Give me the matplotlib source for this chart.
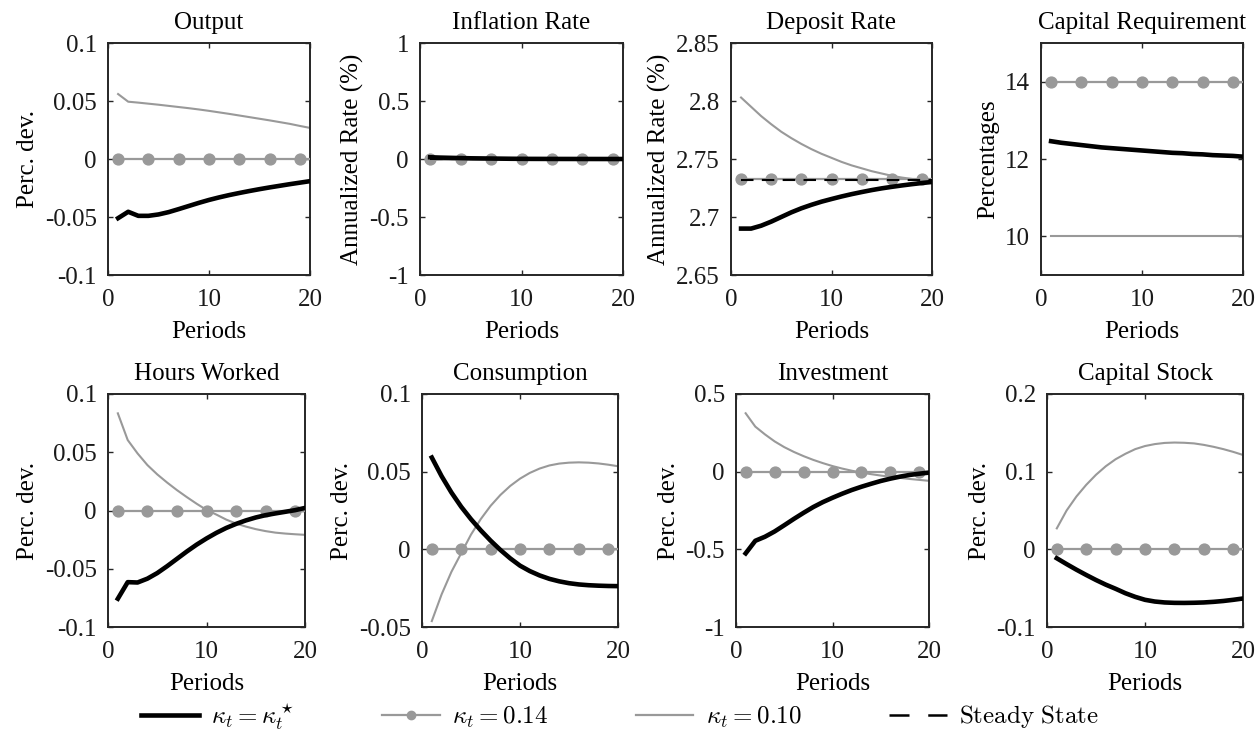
import matplotlib
matplotlib.use("Agg")
import matplotlib.pyplot as plt
from matplotlib.lines import Line2D
import numpy as np

plt.rcParams['font.family'] = ['Liberation Serif', 'DejaVu Serif']
plt.rcParams['mathtext.fontset'] = 'cm'

periods = list(range(1, 21))

# ---------------- data ----------------
output_kstar = [-0.051, -0.0455, -0.049, -0.049, -0.0478, -0.0458, -0.0432, -0.0405, -0.0378, -0.0353,
                -0.0331, -0.0311, -0.0293, -0.0276, -0.0260, -0.0245, -0.0231, -0.0217, -0.0204, -0.0191]
output_k014 = [0.0] * 20
output_k010 = [0.056, 0.0494, 0.0486, 0.0477, 0.0468, 0.0458, 0.0448, 0.0438, 0.0427, 0.0415,
               0.0402, 0.0389, 0.0375, 0.0361, 0.0347, 0.0333, 0.0318, 0.0303, 0.0285, 0.0268]

infl_kstar = [0.015, 0.012, 0.010, 0.008, 0.006, 0.005, 0.004, 0.003, 0.002, 0.0015,
              0.001, 0.0008, 0.0006, 0.0004, 0.0003, 0.0002, 0.0001, 0.0, 0.0, 0.0]
infl_k014 = [0.0] * 20
infl_k010 = [-0.008, -0.006, -0.005, -0.004, -0.003, -0.0025, -0.002, -0.0015, -0.001, -0.0008,
             -0.0006, -0.0004, -0.0003, -0.0002, -0.0001, 0.0, 0.0, 0.0, 0.0, 0.0]
infl_ss = 0.0

dep_kstar = [2.690, 2.690, 2.6925, 2.696, 2.700, 2.704, 2.7075, 2.7105, 2.7132, 2.7155,
             2.7177, 2.7197, 2.7215, 2.7232, 2.7247, 2.7260, 2.7272, 2.7283, 2.7293, 2.7302]
dep_k014 = [2.7326] * 20
dep_k010 = [2.803, 2.795, 2.787, 2.780, 2.7735, 2.768, 2.763, 2.7585, 2.7545, 2.751,
            2.7475, 2.7445, 2.742, 2.7395, 2.7375, 2.7355, 2.734, 2.7328, 2.7318, 2.731]
dep_ss = 2.7315

capreq_kstar = [12.46, 12.42, 12.39, 12.36, 12.33, 12.30, 12.28, 12.26, 12.24, 12.22,
                12.20, 12.18, 12.16, 12.15, 12.13, 12.12, 12.10, 12.09, 12.08, 12.06]
capreq_k014 = [14.0] * 20
capreq_k010 = [10.0] * 20

hours_kstar = [-0.0757, -0.0615, -0.0618, -0.0585, -0.0537, -0.0478, -0.0415, -0.0352, -0.0293, -0.0240,
               -0.0192, -0.0150, -0.0115, -0.0085, -0.0060, -0.0040, -0.0025, -0.0011, 0.0003, 0.0022]
hours_k014 = [0.0] * 20
hours_k010 = [0.0834, 0.0605, 0.049, 0.039, 0.031, 0.024, 0.0175, 0.0115, 0.0058, 0.0005,
              -0.0035, -0.0078, -0.0112, -0.0138, -0.016, -0.0177, -0.019, -0.0198, -0.0204, -0.0209]

cons_kstar = [0.0591, 0.0471, 0.0366, 0.0274, 0.0194, 0.0122, 0.0056, -0.0004, -0.0058, -0.0105,
              -0.0140, -0.0168, -0.0190, -0.0206, -0.0218, -0.0226, -0.0231, -0.0234, -0.0236, -0.0237]
cons_k014 = [0.0] * 20
cons_k010 = [-0.0462, -0.029, -0.0145, -0.0025, 0.0095, 0.0195, 0.028, 0.035, 0.0408, 0.0455,
             0.0492, 0.052, 0.054, 0.0552, 0.0558, 0.056, 0.0558, 0.0553, 0.0545, 0.0535]

inv_kstar = [-0.526, -0.445, -0.419, -0.385, -0.345, -0.304, -0.265, -0.228, -0.196, -0.168,
             -0.142, -0.118, -0.097, -0.078, -0.060, -0.045, -0.032, -0.021, -0.013, -0.006]
inv_k014 = [0.0] * 20
inv_k010 = [0.376, 0.29, 0.24, 0.195, 0.158, 0.127, 0.100, 0.076, 0.055, 0.036,
            0.020, 0.006, -0.006, -0.016, -0.025, -0.033, -0.040, -0.047, -0.053, -0.059]

capst_kstar = [-0.0115, -0.019, -0.0262, -0.033, -0.0395, -0.0455, -0.0508, -0.0565, -0.0612, -0.065,
               -0.0672, -0.0684, -0.0689, -0.069, -0.0688, -0.0684, -0.0676, -0.0665, -0.065, -0.0633]
capst_k014 = [0.0] * 20
capst_k010 = [0.027, 0.050, 0.068, 0.083, 0.096, 0.107, 0.116, 0.123, 0.129, 0.133,
              0.1355, 0.137, 0.1375, 0.1372, 0.1364, 0.1345, 0.132, 0.129, 0.1255, 0.1215]

titles = ["Output", "Inflation Rate", "Deposit Rate", "Capital Requirement",
          "Hours Worked", "Consumption", "Investment", "Capital Stock"]
ylabels = ["Perc. dev.", "Annualized Rate (%)", "Annualized Rate (%)", "Percentages",
           "Perc. dev.", "Perc. dev.", "Perc. dev.", "Perc. dev."]
ylims = [(-0.1, 0.1), (-1, 1), (2.65, 2.85), (9, 15),
         (-0.1, 0.1), (-0.05, 0.1), (-1, 0.5), (-0.1, 0.2)]
yticks = [[-0.1, -0.05, 0, 0.05, 0.1], [-1, -0.5, 0, 0.5, 1], [2.65, 2.7, 2.75, 2.8, 2.85], [10, 12, 14],
          [-0.1, -0.05, 0, 0.05, 0.1], [-0.05, 0, 0.05, 0.1], [-1, -0.5, 0, 0.5], [-0.1, 0, 0.1, 0.2]]
yticklabels = [["-0.1", "-0.05", "0", "0.05", "0.1"], ["-1", "-0.5", "0", "0.5", "1"],
               ["2.65", "2.7", "2.75", "2.8", "2.85"], ["10", "12", "14"],
               ["-0.1", "-0.05", "0", "0.05", "0.1"], ["-0.05", "0", "0.05", "0.1"],
               ["-1", "-0.5", "0", "0.5"], ["-0.1", "0", "0.1", "0.2"]]
xticks = [0, 10, 20]
xticklabels = ["0", "10", "20"]

kstar_all = [output_kstar, infl_kstar, dep_kstar, capreq_kstar, hours_kstar, cons_kstar, inv_kstar, capst_kstar]
k014_all = [output_k014, infl_k014, dep_k014, capreq_k014, hours_k014, cons_k014, inv_k014, capst_k014]
k010_all = [output_k010, infl_k010, dep_k010, capreq_k010, hours_k010, cons_k010, inv_k010, capst_k010]
ss_all = [None, infl_ss, dep_ss, None, None, None, None, None]

legend_labels = [r'$\kappa_t=\kappa_t^\star$', r'$\kappa_t=0.14$', r'$\kappa_t=0.10$', r'$\mathrm{Steady\ State}$']

# ---------------- layout ----------------
W, H = 1258, 738
fig = plt.figure(figsize=(W / 100, H / 100), dpi=100)

boxes_px = [(108, 43, 310, 275), (420, 43, 623, 275), (731, 43, 932, 275), (1041, 43, 1243, 275),
            (108, 394, 305, 627), (422, 394, 618, 627), (736, 394, 929, 627), (1047, 394, 1243, 627)]

GRAY = '#999999'
FRAME = '#262626'
FS = 18

for i in range(8):
    l, t, r, b = boxes_px[i]
    ax = fig.add_axes([l / W, 1 - b / H, (r - l) / W, (b - t) / H])
    x = np.array(periods)
    ax.plot(x, k010_all[i], color=GRAY, lw=1.5, zorder=2)
    ax.plot(x, k014_all[i], color=GRAY, lw=1.6, marker='o', ms=7.8, markevery=3,
            markeredgecolor=GRAY, markerfacecolor=GRAY, zorder=3)
    if ss_all[i] is not None:
        ax.plot(x, [ss_all[i]] * len(x), color='black', lw=1.5, dashes=(6, 4), zorder=4)
    ax.plot(x, kstar_all[i], color='black', lw=3.3, zorder=5)

    ax.set_xlim(0, 20)
    ax.set_ylim(*ylims[i])
    ax.set_xticks(xticks)
    ax.set_xticklabels(xticklabels)
    ax.set_yticks(yticks[i])
    ax.set_yticklabels(yticklabels[i])
    ax.tick_params(direction='in', top=True, right=True, length=3.5, width=1.0,
                   labelsize=FS, color=FRAME, labelcolor='#1a1a1a')
    ax.tick_params(axis='x', pad=10)
    ax.tick_params(axis='y', pad=8)
    for sp in ax.spines.values():
        sp.set_linewidth(1.4)
        sp.set_color(FRAME)
    ax.set_title(titles[i], fontsize=FS, pad=10, color='black')
    ax.set_xlabel("Periods", fontsize=FS, labelpad=7)
    ax.set_ylabel(ylabels[i], fontsize=FS, labelpad=4)

handles = [Line2D([], [], color='black', lw=3.3),
           Line2D([], [], color=GRAY, lw=1.6, marker='o', ms=6, markerfacecolor=GRAY, markeredgecolor=GRAY),
           Line2D([], [], color=GRAY, lw=1.6),
           Line2D([], [], color='black', lw=1.8, dashes=(8, 7.5))]
fig.legend(handles, legend_labels, loc='lower center', bbox_to_anchor=(0.493, -0.022), ncol=4,
           frameon=False, fontsize=18, handlelength=2.3, columnspacing=3.5, handletextpad=0.5)

fig.savefig("out.png", dpi=100)
